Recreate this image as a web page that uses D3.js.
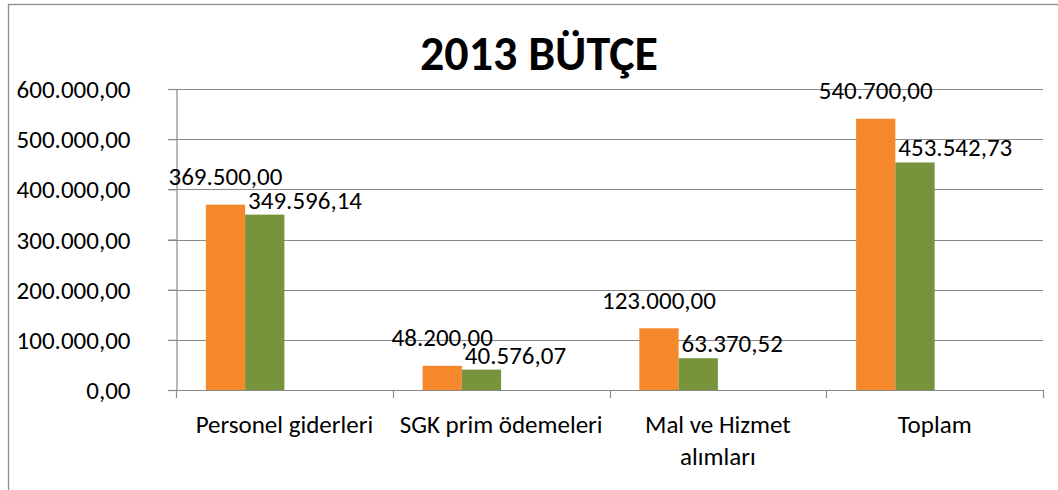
<!DOCTYPE html>
<html>
<head>
<meta charset="utf-8">
<script src="https://cdn.jsdelivr.net/npm/d3@7"></script>
<style>
  html, body { margin: 0; padding: 0; background: #fff; }
  svg { display: block; }
</style>
</head>
<body>
<svg id="chart" width="1058" height="490"></svg>
<script>
// ---- data ----
const title = "2013 BÜTÇE";
const categories = ["Personel giderleri", "SGK prim ödemeleri", "Mal ve Hizmet alımları", "Toplam"];
const seriesNames = ["Bütçe", "Gerçekleşen"];
const butce = [369500.00, 48200.00, 123000.00, 540700.00];
const gerceklesen = [349596.14, 40576.07, 63370.52, 453542.73];
const yTickValues = [0, 100000, 200000, 300000, 400000, 500000, 600000];

// ---- setup ----
const W = 1058, H = 490;
const FONT = "Carlito, Calibri, Lato, 'Open Sans', sans-serif";
const FS = 25;
const GRID = "#8a8a8a";
const colors = ["#F5882A", "#77933C"];
const svg = d3.select("#chart");

const trLocale = d3.formatLocale({ decimal: ",", thousands: ".", grouping: [3], currency: ["", " ₺"] });
const fmt = trLocale.format(",.2f");

svg.append("rect").attr("width", W).attr("height", H).attr("fill", "#fff");
// chart frame (extends beyond right/bottom of the picture)
svg.append("rect")
  .attr("x", 8.5).attr("y", 4.5).attr("width", 1200).attr("height", 700)
  .attr("fill", "none").attr("stroke", "#8c8c8c").attr("stroke-width", 1.3);

const plot = { left: 176, right: 1043, top: 89, bottom: 390 };

const y = d3.scaleLinear().domain([0, 600000]).range([plot.bottom, plot.top]);
const x0 = d3.scaleBand().domain(categories).range([plot.left, plot.right]).padding(0);
// four slots per category (two are empty), as in the original layout
const slots = seriesNames.concat(["_a", "_b"]);
const x1 = d3.scaleBand().domain(slots).range([0, x0.bandwidth()]).paddingInner(0).paddingOuter(0.76);

// gridlines
svg.append("g").selectAll("line").data(yTickValues).join("line")
  .attr("x1", plot.left - 8).attr("x2", plot.right)
  .attr("y1", d => Math.round(y(d)) + 0.5).attr("y2", d => Math.round(y(d)) + 0.5)
  .attr("stroke", GRID).attr("stroke-width", 1.2);

// y axis
const yAxis = d3.axisLeft(y).tickValues(yTickValues).tickFormat(fmt).tickSize(8).tickPadding(38);
const gy = svg.append("g").attr("transform", `translate(${plot.left + 0.5},0)`).call(yAxis);
gy.select(".domain").attr("stroke", GRID).attr("stroke-width", 1.2);
gy.selectAll(".tick line").attr("stroke", GRID).attr("stroke-width", 1.2);
gy.selectAll(".tick text").attr("font-family", FONT).attr("font-size", FS).attr("fill", "#000").attr("dy", "0.34em");
gy.attr("font-family", null).attr("font-size", null);

// x axis category ticks at boundaries
const bounds = categories.map(c => x0(c)).concat([x0(categories[categories.length - 1]) + x0.bandwidth()]);
svg.append("g").selectAll("line").data(bounds).join("line")
  .attr("x1", d => Math.round(d) + 0.5).attr("x2", d => Math.round(d) + 0.5)
  .attr("y1", plot.bottom).attr("y2", plot.bottom + 8)
  .attr("stroke", GRID).attr("stroke-width", 1.2);

// bars
const seriesData = [butce, gerceklesen];
const gBars = svg.append("g");
seriesData.forEach((vals, si) => {
  gBars.selectAll(null).data(vals).join("rect")
    .attr("x", (d, i) => x0(categories[i]) + x1(seriesNames[si]))
    .attr("y", d => y(d))
    .attr("width", x1.bandwidth())
    .attr("height", d => y(0) - y(d))
    .attr("fill", colors[si]);
});

// data labels
const gLab = svg.append("g").attr("font-family", FONT).attr("font-size", FS).attr("fill", "#000");
gLab.selectAll(null).data(butce).join("text")
  .attr("x", (d, i) => x0(categories[i]) + x1(seriesNames[0]) + x1.bandwidth() / 2)
  .attr("y", d => y(d) - 19.5)
  .attr("text-anchor", "middle")
  .text(d => fmt(d));
gLab.selectAll(null).data(gerceklesen).join("text")
  .attr("x", (d, i) => x0(categories[i]) + x1(seriesNames[1]) + 3)
  .attr("y", d => y(d) - 6)
  .attr("text-anchor", "start")
  .text(d => fmt(d));

// category labels (wrapped)
const gCat = svg.append("g").attr("font-family", FONT).attr("font-size", FS).attr("fill", "#000");
categories.forEach(c => {
  const cx = x0(c) + x0.bandwidth() / 2;
  const t = gCat.append("text").attr("text-anchor", "middle").attr("x", cx).attr("y", 433);
  const words = c.split(" ");
  let line = [];
  let ts = t.append("tspan").attr("x", cx).attr("dy", 0);
  words.forEach(w => {
    line.push(w);
    ts.text(line.join(" "));
    if (ts.node().getComputedTextLength() > x0.bandwidth() - 6 && line.length > 1) {
      line.pop();
      ts.text(line.join(" "));
      line = [w];
      ts = t.append("tspan").attr("x", cx).attr("dy", 32).text(w);
    }
  });
});

// title
svg.append("text")
  .attr("x", 539).attr("y", 70).attr("text-anchor", "middle")
  .attr("font-family", FONT).attr("font-weight", "bold").attr("font-size", 48).attr("fill", "#000")
  .text(title);
</script>
</body>
</html>
